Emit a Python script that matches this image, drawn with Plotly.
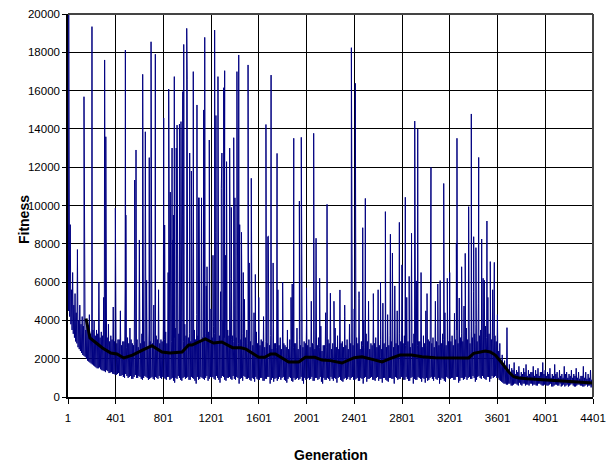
import plotly.graph_objects as go

# ---- tick labels ----
x_ticks = [1, 401, 801, 1201, 1601, 2001, 2401, 2801, 3201, 3601, 4001, 4401]
y_ticks = list(range(0, 20001, 2000))

# ---- blue series, dense band: lows at gens 5, 25, 45, ... ----
low_a_gen = list(range(5, 4400, 20))
low_a_fit = [
    4500, 3800, 3300, 2900, 2600, 2400, 2200, 2100, 1900, 1800, 1700, 1600, 1500, 1550, 1400, 1350, 1400, 1250, 1300, 1200,
    1150, 1250, 1100, 1050, 1200, 1000, 1100, 950, 1150, 1000, 1050, 900, 1100, 1000, 950, 1050, 900, 1000, 1100, 950,
    1000, 900, 1050, 950, 850, 1000, 1100, 900, 1000, 950, 1050, 900, 1000, 850, 1050, 950, 1000, 900, 1100, 950,
    1000, 950, 1100, 900, 1000, 1050, 850, 1000, 950, 1100, 900, 1000, 950, 850, 1050, 950, 900, 1000, 800, 950,
    900, 1000, 850, 950, 1050, 900, 800, 1000, 950, 900, 1050, 850, 950, 1000, 800, 900, 1000, 950, 850, 1000,
    950, 900, 1050, 850, 1000, 950, 800, 1000, 900, 950, 1050, 850, 950, 1000, 900, 800, 1000, 950, 900, 1050,
    900, 1000, 850, 950, 1000, 800, 950, 1050, 900, 1000, 850, 950, 1000, 900, 800, 1000, 950, 1050, 900, 950,
    1000, 900, 950, 850, 1050, 950, 900, 1000, 800, 950, 1000, 900, 1050, 850, 950, 1000, 900, 950, 800, 1000,
    950, 1000, 900, 1050, 850, 1000, 950, 900, 1050, 950, 1000, 900, 1100, 950, 1000, 900, 1050, 950, 1000, 1100,
    1000, 850, 750, 700, 650, 700, 600, 700, 650, 750, 600, 700, 650, 600, 700, 650, 600, 700, 650, 600,
    650, 600, 700, 550, 650, 600, 700, 600, 550, 650, 600, 700, 550, 600, 650, 600, 550, 650, 600, 500,
]

# ---- blue series, dense band: band tops at gens 10, 30, 50, ... ----
top_gen = list(range(10, 4400, 20))
top_fit = [
    7000, 5600, 4800, 4400, 4000, 3800, 3700, 3500, 3400, 3300, 3500, 3200, 3300, 3100, 3200, 3000, 3100, 2900, 3000, 2900,
    2800, 3000, 2700, 2900, 2600, 2800, 3000, 2700, 2900, 2600, 2800, 2700, 3000, 2600, 2900, 2800, 2700, 3000, 2800, 2900,
    3000, 2800, 3200, 2900, 3100, 2800, 3300, 3000, 2900, 3200, 3100, 2900, 3300, 3000, 3200, 2900, 3100, 3300, 3000, 3200,
    3100, 3300, 2900, 3200, 3000, 3100, 2800, 3200, 3000, 2900, 3100, 2800, 3000, 2900, 3100, 2800, 2900, 2700, 3000, 2800,
    2700, 2900, 2600, 2800, 2700, 2500, 2800, 2600, 2700, 2500, 2800, 2600, 2500, 2700, 2600, 2800, 2500, 2700, 2600, 2800,
    2700, 2600, 2800, 2500, 2700, 2600, 2400, 2700, 2600, 2800, 2500, 2700, 2600, 2500, 2800, 2600, 2700, 2500, 2800, 2700,
    2600, 2800, 2500, 2700, 2600, 2900, 2500, 2700, 2800, 2600, 2700, 2500, 2800, 2600, 2700, 2900, 2600, 2800, 2700, 2900,
    2800, 2700, 2900, 2600, 2800, 3000, 2700, 2900, 2600, 2800, 2700, 2900, 2800, 2600, 2900, 2700, 2800, 3000, 2700, 2900,
    2900, 2700, 3000, 2800, 3100, 2900, 3200, 3000, 2800, 3100, 3300, 2900, 3200, 3000, 3400, 3100, 3300, 3000, 3200, 2900,
    2400, 1900, 1600, 1400, 1300, 1200, 1400, 1200, 1300, 1100, 1200, 1300, 1100, 1200, 1300, 1100, 1200, 1100, 1300, 1200,
    1100, 1200, 1000, 1100, 1200, 1000, 1100, 1000, 1200, 1000, 1100, 1000, 1100, 1000, 950, 1100, 1000, 950, 1000, 900,
]

# ---- blue series, dense band: lows at gens 15, 35, 55, ... ----
low_b_gen = list(range(15, 4400, 20))
low_b_fit = [
    4200, 3500, 3100, 2800, 2500, 2300, 2150, 2000, 1850, 1750, 1650, 1550, 1500, 1450, 1380, 1300, 1350, 1280, 1220, 1180,
    1200, 1100, 1150, 1000, 1100, 1050, 950, 1050, 1000, 1100, 950, 1000, 1050, 900, 1000, 950, 1050, 950, 1000, 1050,
    950, 1050, 900, 1000, 750, 950, 1000, 850, 1050, 1000, 900, 1050, 950, 700, 900, 1050, 950, 1000, 850, 1050,
    1050, 900, 1000, 750, 1100, 900, 1000, 1050, 900, 950, 1050, 700, 1000, 1100, 950, 1000, 850, 950, 1050, 900,
    1000, 850, 950, 1050, 700, 1000, 950, 850, 1050, 1000, 900, 750, 1050, 850, 1000, 950, 900, 1050, 700, 900,
    1000, 950, 850, 1000, 900, 1050, 700, 900, 1000, 850, 950, 1000, 750, 1050, 850, 950, 900, 1050, 1000, 900,
    950, 850, 1000, 700, 1050, 950, 1000, 900, 850, 1050, 950, 750, 1000, 850, 1000, 950, 700, 1000, 950, 1050,
    900, 1050, 850, 1000, 700, 900, 1050, 950, 1000, 750, 850, 1000, 950, 1050, 900, 700, 1000, 850, 1050, 950,
    1000, 900, 1050, 750, 1000, 900, 1050, 1000, 950, 1100, 800, 1050, 1000, 1100, 950, 1050, 800, 1100, 1050, 1000,
    900, 800, 700, 650, 700, 600, 650, 700, 600, 650, 700, 600, 650, 700, 600, 650, 600, 700, 600, 650,
    600, 650, 550, 600, 650, 600, 550, 650, 600, 550, 650, 600, 550, 650, 600, 550, 600, 550, 600, 550,
]

# ---- blue series, dense band: crests at gens 20, 40, 60, ... ----
crest_gen = list(range(20, 4401, 20))
crest_fit = [
    9000, 6500, 5400, 7700, 4800, 4200, 5500, 3900, 4300, 3600, 4000, 3500, 6000, 3400, 5200, 3300, 3800, 3200, 4700, 3300,
    3000, 4500, 2900, 5800, 3100, 3600, 2800, 7200, 3000, 4200, 3300, 2900, 6100, 3500, 3000, 4800, 3200, 5600, 3000, 3700,
    3400, 6500, 3000, 8200, 3600, 4500, 3200, 9500, 3800, 5200, 3300, 7000, 3500, 4300, 3900, 10400, 3600, 5800, 3400, 4600,
    3700, 8600, 3300, 5500, 4000, 7400, 3500, 6200, 3200, 4800, 3600, 9000, 3300, 5100, 3500, 7000, 3100, 4400, 3400, 5200,
    3000, 4200, 2900, 8400, 3200, 3800, 2800, 5600, 3100, 4000, 2700, 3500, 3000, 5900, 2800, 3600, 3000, 7450, 2900, 4100,
    3000, 5000, 2800, 8000, 3100, 3700, 2700, 4400, 3000, 5420, 2800, 3600, 3200, 5590, 2900, 4200, 3000, 3800, 2800, 4600,
    3100, 5150, 2900, 4000, 3300, 5000, 2800, 4600, 3100, 5600, 3000, 4900, 2900, 4300, 3200, 7520, 3000, 4500, 3300, 6900,
    3200, 5200, 3000, 8080, 3300, 6060, 2900, 5800, 3200, 4500, 3000, 7050, 3100, 5000, 2900, 6080, 3300, 4400, 3000, 6500,
    3200, 4370, 3500, 5170, 3300, 4750, 3600, 6300, 3400, 5500, 3800, 4900, 3500, 6200, 3700, 5200, 3400, 4800, 3200, 4300,
    2800, 2200, 1900, 3620, 1700, 1500, 1800, 1400, 1600, 1300, 1500, 1700, 1400, 1300, 1600, 1400, 1500, 1300, 1800, 1400,
    1300, 1500, 1200, 1700, 1300, 1400, 1200, 1600, 1300, 1200, 1400, 1200, 1500, 1300, 1100, 1600, 1300, 1200, 1400, 1100,
]

# ---- blue series: tall spikes ----
spike_gen = [1, 7, 12, 135, 202, 308, 318, 398, 482, 486, 560, 571, 599, 627, 633, 649, 682, 697, 733,
             803, 811, 845, 873, 892, 915, 935, 948, 971, 996, 1000, 1021, 1051, 1082, 1095, 1138, 1147,
             1185, 1230, 1258, 1291, 1306, 1314, 1330, 1356, 1390, 1400, 1417, 1432, 1445, 1510, 1537,
             1660, 1675, 1703, 1753, 1893, 1940, 1956, 2060, 2080, 2172, 2376, 2409, 2471, 2493, 2661,
             2703, 2778, 2828, 2880, 2907, 2932, 3043, 3150, 3256, 3261, 3268, 3359, 3381, 3401, 3443,
             3468, 3512, 3540, 3574]
spike_fit = [9000, 20000, 16800, 15680, 19340, 17600, 13590, 9870, 18120, 9500, 11330, 12900, 8200, 16850, 16290, 13850, 12500, 18550, 17900,
             14570, 8980, 16080, 13000, 16730, 14200, 14250, 14380, 18410, 19250, 16600, 12740, 16990, 15250, 10400, 14990, 18780,
             13420, 19160, 16730, 12740, 16150, 17040, 12290, 13000, 13540, 10400, 16990, 17860, 8630, 17340, 11420,
             14230, 8370, 16810, 12720, 13510, 10230, 13560, 13770, 8290, 10060, 18240, 16380, 8840, 10370, 9680,
             8500, 9120, 10430, 8550, 14410, 13990, 11990, 11150, 8030, 13510, 11200, 9940, 14780, 8370, 12510,
             8250, 9190, 7070, 7030]

# ---- blue series: medium spikes ----
mid_gen = [858, 885, 908, 963, 1035, 1101, 1166, 1216, 1241, 1286, 1370, 1404, 1455, 1470, 1543, 1571, 1677,
           1720, 1800, 1870, 2000, 2110, 2230, 2320, 2440, 2560, 2620, 2740, 2860, 2960, 3010, 3100, 3180,
           3300, 3330, 3420, 3490, 3560]
mid_fit = [10700, 9500, 13000, 15950, 11800, 10400, 6800, 7400, 14700, 10900, 9900, 9900, 8600, 6500, 6400, 6400, 6400,
           7000, 6000, 5200, 5700, 6200, 5000, 4800, 5500, 5400, 6000, 5800, 6300, 6500, 5400, 5900, 6200,
           6800, 7500, 7800, 6100, 5600]

# ---- black series: moving average ----
avg_gen = [152, 185, 227, 290, 360, 411, 468, 541, 625, 705, 789, 856, 957, 1012, 1040, 1152, 1220, 1290, 1380,
           1450, 1493, 1600, 1650, 1700, 1740, 1850, 1935, 1990, 2070, 2130, 2200, 2297, 2400, 2465, 2560, 2633,
           2700, 2783, 2880, 2968, 3080, 3192, 3260, 3359, 3401, 3498, 3540, 3582, 3638, 3694, 3736, 3778, 3850,
           4001, 4100, 4196, 4300, 4401]
avg_fit = [4100, 3080, 2870, 2560, 2300, 2245, 2040, 2190, 2450, 2680, 2350, 2300, 2350, 2715, 2715, 3030, 2820, 2870, 2575,
           2575, 2500, 2070, 2070, 2245, 2245, 1830, 1830, 2070, 2070, 1930, 1900, 1775, 2050, 2100, 1950, 1830,
           2000, 2190, 2190, 2100, 2050, 2040, 2040, 2040, 2280, 2400, 2350, 2190, 1775, 1320, 1060, 990, 950,
           890, 850, 800, 760, 730]

# combine the read points of the blue series, ordered by generation
pts = sorted(list(zip(low_a_gen, low_a_fit)) + list(zip(top_gen, top_fit)) +
             list(zip(low_b_gen, low_b_fit)) + list(zip(crest_gen, crest_fit)) +
             list(zip(spike_gen, spike_fit)) + list(zip(mid_gen, mid_fit)))
blue_x = [p[0] for p in pts]
blue_y = [p[1] for p in pts]

FONT = "Liberation Sans, Arial, sans-serif"

fig = go.Figure()
fig.add_trace(go.Scatter(x=blue_x, y=blue_y, mode="lines",
                         line=dict(color="#000080", width=1), showlegend=False, hoverinfo="skip"))
fig.add_trace(go.Scatter(x=avg_gen, y=avg_fit, mode="lines",
                         line=dict(color="#000000", width=3), showlegend=False, hoverinfo="skip"))

fig.update_layout(
    width=608, height=466,
    margin=dict(l=68, r=15, t=14, b=69),
    paper_bgcolor="white", plot_bgcolor="white",
    font=dict(family=FONT, size=11, color="#000"),
    xaxis=dict(range=[1, 4401], tickmode="array", tickvals=x_ticks, ticktext=[str(v) for v in x_ticks],
               showgrid=True, gridcolor="#000", gridwidth=1, zeroline=False, automargin=False,
               showline=True, linecolor="#000", linewidth=1.5, mirror=False,
               ticks="outside", ticklen=5, tickcolor="#000", tickfont=dict(size=11.5),
               ticklabelstandoff=4),
    yaxis=dict(range=[0, 20000], tickmode="array", tickvals=y_ticks, ticktext=[str(v) for v in y_ticks],
               showgrid=True, gridcolor="#000", gridwidth=1, zeroline=False, automargin=False,
               showline=True, linecolor="#000", linewidth=1.5,
               ticks="outside", ticklen=4, tickcolor="#000", tickfont=dict(size=11.5)),
    annotations=[
        dict(text="<b>Fitness</b>", xref="paper", yref="paper", x=-0.0838, y=0.462, textangle=-90,
             showarrow=False, font=dict(family=FONT, size=14), xanchor="center", yanchor="middle"),
        dict(text="<b>Generation</b>", xref="paper", yref="paper", x=0.501, y=-0.1527,
             showarrow=False, font=dict(family=FONT, size=14), xanchor="center", yanchor="middle"),
    ],
    shapes=[dict(type="line", xref="paper", yref="paper", x0=0, x1=1, y0=1, y1=1,
                 line=dict(color="#444", width=2)),
            dict(type="line", xref="paper", yref="paper", x0=1, x1=1, y0=0, y1=1,
                 line=dict(color="#444", width=2))],
)

fig.write_html("out.html", config={"displayModeBar": False},
               post_script="document.body.style.margin='0';document.body.style.padding='0';")
